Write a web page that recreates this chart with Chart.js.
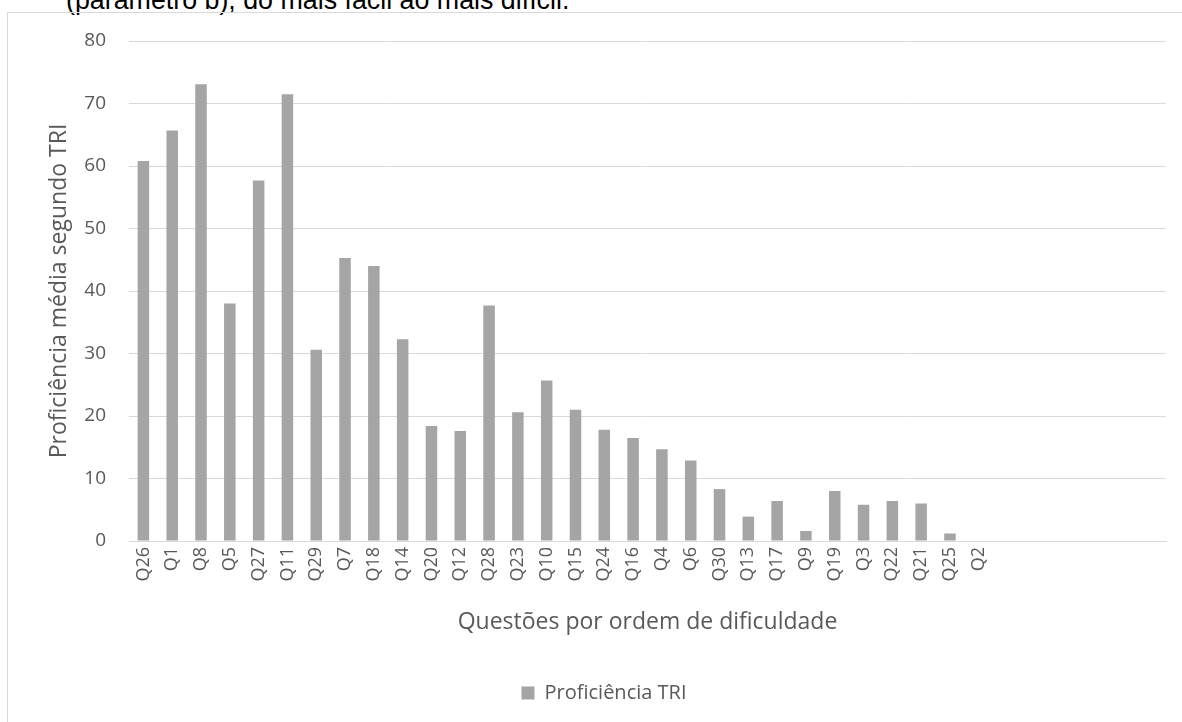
<!DOCTYPE html>
<html>
<head>
<meta charset="utf-8">
<script src="https://cdn.jsdelivr.net/npm/chart.js@4.4.1/dist/chart.umd.min.js"></script>
<style>
  html, body { margin: 0; padding: 0; background: #ffffff; }
  #wrap { position: relative; width: 1182px; height: 722px; overflow: hidden; background: #fff; }
  #caption { position: absolute; left: 66px; top: -15px; font-family: "Liberation Sans", Arial, sans-serif; font-size: 26.8px; line-height: 30px; color: #000; white-space: nowrap; }
  #frame { position: absolute; left: 7px; top: 12px; width: 1300px; height: 800px; border-left: 1px solid #d9d9d9; border-top: 1px solid #d9d9d9; }
  #c { position: absolute; left: 0; top: 0; }
</style>
</head>
<body>
<div id="wrap">
  <div id="caption">(parâmetro b), do mais fácil ao mais difícil.</div>
  <div id="frame"></div>
  <canvas id="c" width="1182" height="722"></canvas>
</div>
<script>
const categories = ['Q26','Q1','Q8','Q5','Q27','Q11','Q29','Q7','Q18','Q14','Q20','Q12','Q28','Q23','Q10','Q15','Q24','Q16','Q4','Q6','Q30','Q13','Q17','Q9','Q19','Q3','Q22','Q21','Q25','Q2','','','','','',''];
const proficiencia = [60.8, 65.7, 73.1, 38.0, 57.7, 71.5, 30.6, 45.3, 44.0, 32.3, 18.4, 17.6, 37.7, 20.6, 25.7, 21.0, 17.8, 16.5, 14.7, 12.9, 8.3, 3.9, 6.4, 1.6, 8.0, 5.8, 6.4, 6.0, 1.2, 0, null, null, null, null, null, null];
const yTicks = [0, 10, 20, 30, 40, 50, 60, 70, 80];
const seriesName = 'Proficiência TRI';
const xTitle = 'Questões por ordem de dificuldade';
const yTitle = 'Proficiência média segundo TRI';

const FONT = '"Open Sans", "Noto Sans", sans-serif';
const TXT = '#595959';
const GRID = '#d9d9d9';

new Chart(document.getElementById('c'), {
  type: 'bar',
  data: {
    labels: categories,
    datasets: [{
      label: seriesName,
      data: proficiencia,
      backgroundColor: '#a5a5a5',
      borderWidth: 0,
      categoryPercentage: 1.0,
      barPercentage: 0.4
    }]
  },
  options: {
    responsive: false,
    animation: false,
    devicePixelRatio: 1,
    layout: { padding: { left: 42, right: 16, top: 41, bottom: 9 } },
    plugins: {
      tooltip: { enabled: false },
      legend: {
        position: 'bottom',
        labels: {
          boxWidth: 13, boxHeight: 13, padding: 10,
          color: TXT,
          font: { family: FONT, size: 20 }
        }
      }
    },
    scales: {
      x: {
        grid: { display: false, drawTicks: false },
        border: { display: true, color: GRID, width: 1 },
        ticks: {
          color: TXT, font: { family: FONT, size: 18 },
          minRotation: 90, maxRotation: 90, autoSkip: false, padding: 6
        },
        title: {
          display: true, text: xTitle, color: TXT,
          font: { family: FONT, size: 23 },
          padding: { top: 4, bottom: 37 }
        },
        afterFit: (s) => { s.height = 132; }
      },
      y: {
        min: 0, max: 80,
        afterBuildTicks: (s) => { s.ticks = yTicks.map(v => ({ value: v })); },
        grid: { color: GRID, lineWidth: 1, drawTicks: false },
        border: { display: false },
        ticks: { color: TXT, font: { family: FONT, size: 19 }, padding: 23 },
        title: {
          display: true, text: yTitle, color: TXT,
          font: { family: FONT, size: 23 },
          padding: { top: 4, bottom: 4 }
        },
        afterFit: (s) => { s.width = 87; }
      }
    }
  }
});
</script>
</body>
</html>
